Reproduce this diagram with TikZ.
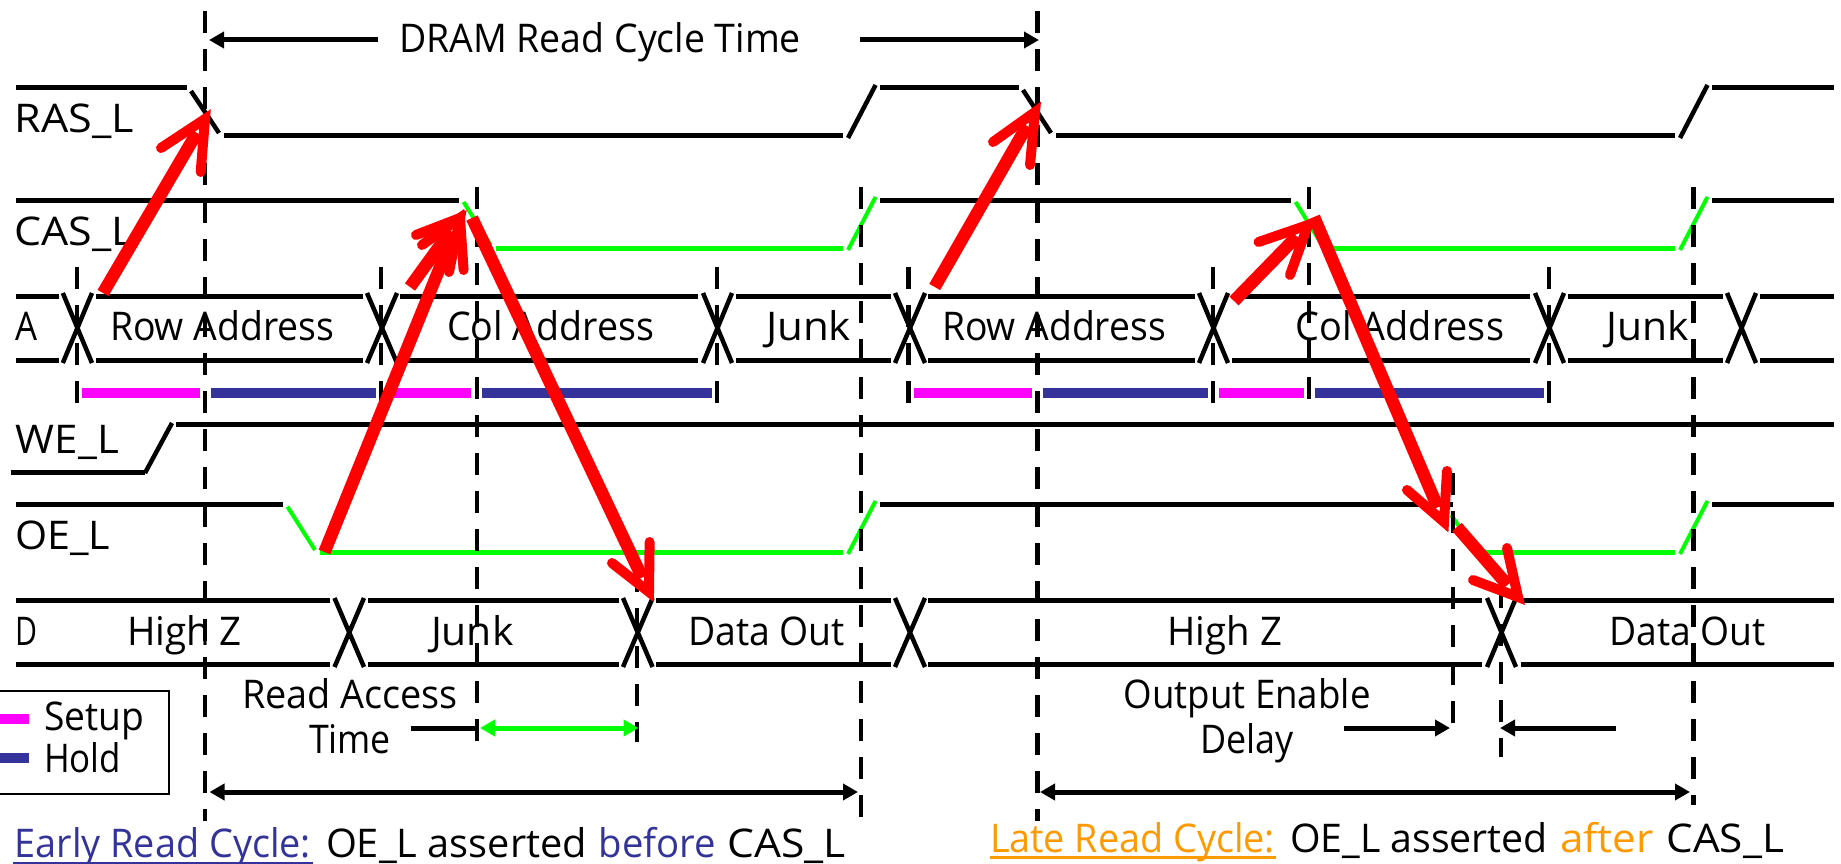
\documentclass[tikz,border=0pt]{standalone}
\usepackage{fontspec}
\usepackage{graphicx}
\setmainfont{Open Sans}
\usetikzlibrary{arrows.meta}
\definecolor{gwav}{RGB}{0,255,0}
\definecolor{rarr}{RGB}{255,0,0}
\definecolor{mgnt}{RGB}{255,0,255}
\definecolor{holdb}{RGB}{51,51,153}
\definecolor{orng}{RGB}{255,153,0}
\tikzset{
  wave/.style={black,line width=5pt},
  gwave/.style={gwav,line width=5pt},
  slash/.style={black,line width=4.5pt},
  gslash/.style={gwav,line width=4pt},
  vdash/.style={black,line width=4.5pt,dash pattern=on 22pt off 16pt},
  barm/.style={mgnt,line width=10.5pt},
  barb/.style={holdb,line width=10.5pt},
  dimline/.style={black,line width=5pt},
  redshaft/.style={rarr,line width=12.5pt,shorten >=16pt},
  redhead/.style={rarr,line width=10pt,line cap=round,line join=miter,miter limit=20},
  lbl/.style={anchor=base west,inner sep=0pt,outer sep=0pt,font=\fontsize{39.5}{42}\selectfont},
  tipr/.style={-{Triangle[length=15pt,width=16pt]}},
  tipl/.style={{Triangle[length=15pt,width=16pt]}-},
  tipb/.style={{Triangle[length=15pt,width=16pt]}-{Triangle[length=15pt,width=16pt]}},
}
% name, x0, x1, baseline, colour, text
\newcommand\tl[6]{%
  \pgfmathsetmacro\tlw{#3-#2}%
  \node[lbl,text=#5] (#1) at (#2,#4) {\resizebox{\tlw pt}{\height}{#6}};%
}
\newcommand\xcross[4]{%
  \draw[slash] (#1,#3) -- (#2,#4) (#2,#3) -- (#1,#4);%
}
\newcommand\redarrow[5]{%
  \coordinate (#1-s) at (#2);
  \coordinate (#1-t) at (#3);
  \coordinate (#1-a) at (#4);
  \coordinate (#1-b) at (#5);
  \draw[redshaft] (#1-s) -- (#1-t);
  \draw[redhead] (#1-a) -- (#1-t) -- (#1-b);%
}
\begin{document}
\begin{tikzpicture}[x=1pt,y=-1pt]
\useasboundingbox (0,0) rectangle (1841,864);
\fill[white] (0,0) rectangle (1841,864);

% RAS_L
\draw[wave] (16,88) -- (187,88) (224,136) -- (843,136) (880,88) -- (1019,88) (1056,136) -- (1675,136) (1712,88) -- (1834,88);
\draw[slash] (191,91) -- (219,133) (848,138) -- (875.6,85) (1023,90) -- (1051,133) (1680,138) -- (1707.5,85);
% CAS_L
\draw[wave] (16,200) -- (459,200) (880,200) -- (1291,200) (1712,200) -- (1834,200);
\draw[gwave] (496,248) -- (843,248) (1328,248) -- (1675,248);
\draw[gslash] (463.6,202) -- (490.6,245) (848,250) -- (875.6,197) (1295.6,202) -- (1322,245) (1680,250) -- (1707.5,197);
% A
\foreach \y in {296,360}{
  \draw[wave] (16,\y) -- (58.7,\y) (96,\y) -- (362.7,\y) (400,\y) -- (698,\y) (736,\y) -- (891,\y)
    (928,\y) -- (1194.6,\y) (1232,\y) -- (1530,\y) (1568,\y) -- (1723,\y) (1760,\y) -- (1834,\y);
}
\xcross{62.8}{92}{293}{363}
\xcross{367}{397}{293}{363}
\xcross{703}{732}{293}{363}
\xcross{895}{925}{293}{363}
\xcross{1199}{1228}{293}{363}
\xcross{1535}{1564}{293}{363}
\xcross{1727}{1756}{293}{363}
% Setup / hold bars
\draw[barm] (82,393) -- (200,393) (392,393) -- (471,393) (914,393) -- (1031.5,393) (1219,393) -- (1304,393);
\draw[barb] (211,393) -- (375.6,393) (482,393) -- (712,393) (1042.7,393) -- (1207.6,393) (1315,393) -- (1544,393);
% WE_L
\draw[wave] (10.5,472) -- (145,472) (176,424) -- (1834,424);
\draw[slash] (145,473) -- (172,423);
% OE_L
\draw[wave] (16,504) -- (283,504) (880,504) -- (1453,504) (1712,504) -- (1834,504);
\draw[gwave] (320,552) -- (843,552) (1476,552) -- (1675,552);
\draw[gslash] (287.5,506.7) -- (315,550) (848,554) -- (875.6,501) (1451,515) -- (1476,550) (1680,554) -- (1707.5,501);
% D
\foreach \y in {600,664}{
  \draw[wave] (16,\y) -- (330,\y) (368,\y) -- (619,\y) (656,\y) -- (891,\y) (928,\y) -- (1482,\y) (1521,\y) -- (1834,\y);
}
\xcross{334.5}{364}{598}{667}
\xcross{623}{652.6}{598}{667}
\xcross{895}{925}{598}{667}
\xcross{1487}{1516}{598}{667}

% Dashed time markers
\draw[vdash] (205,11) -- (205,821);
\draw[vdash] (1037.4,11) -- (1037.4,821);
\draw[vdash] (477,187) -- (477,742);
\draw[vdash] (861,187) -- (861,818);
\draw[vdash] (1309,187) -- (1309,399);
\draw[vdash] (1693.5,187) -- (1693.5,805);
\foreach \x in {77,381,717,908.5,1213,1549}{
  \draw[vdash] (\x,267) -- (\x,403);
}
\draw[vdash] (637,570) -- (637,742);
\draw[vdash] (1453,473) -- (1453,723);
\draw[vdash] (1501,586) -- (1501,757);

% Dimension arrows
\coordinate (top-l) at (209,40);
\coordinate (top-ls) at (378,40);
\coordinate (top-rs) at (860,40);
\coordinate (top-r) at (1039,40);
\draw[dimline,tipr] (top-ls) -- (top-l);
\draw[dimline,tipr] (top-rs) -- (top-r);
\coordinate (ear-l) at (209.5,792);
\coordinate (ear-r) at (858,792);
\coordinate (lat-l) at (1040,792);
\coordinate (lat-r) at (1690,792);
\draw[dimline,tipb] (ear-l) -- (ear-r);
\draw[dimline,tipb] (lat-l) -- (lat-r);
\coordinate (acc-s) at (411,728);
\coordinate (acc-e) at (478,728);
\draw[dimline] (acc-s) -- (acc-e);
\coordinate (acc-l) at (480,728);
\coordinate (acc-r) at (638.5,728);
\draw[gwav,line width=5pt,tipb] (acc-l) -- (acc-r);
\coordinate (oed-ls) at (1344,728);
\coordinate (oed-lt) at (1450,728);
\coordinate (oed-rs) at (1615.5,728);
\coordinate (oed-rt) at (1500,728);
\draw[dimline,tipr] (oed-ls) -- (oed-lt);
\draw[dimline,tipr] (oed-rs) -- (oed-rt);

% Legend
\draw[black,line width=2pt] (0,691) -- (169,691) -- (169,794) -- (0,794);
\draw[mgnt,line width=10.5pt] (0,719) -- (29,719);
\draw[holdb,line width=10.5pt] (0,758) -- (29,758);

% Labels
\tl{dram}{399}{801}{53}{black}{DRAM Read Cycle Time}
\tl{ras}{14.7}{134}{133}{black}{RAS\_L}
\tl{cas}{14.7}{134}{245}{black}{CAS\_L}
\tl{a}{16}{38}{340}{black}{A}
\tl{row1}{110}{334.5}{340}{black}{Row Address}
\tl{col1}{447}{654}{340}{black}{Col Address}
\tl{jnk1}{766}{851}{340}{black}{Junk}
\tl{row2}{942}{1166}{340}{black}{Row Address}
\tl{col2}{1295.6}{1504}{340}{black}{Col Address}
\tl{jnk2}{1606.6}{1689}{340}{black}{Junk}
\tl{we}{16}{119}{453}{black}{WE\_L}
\tl{oe}{15}{110}{549}{black}{OE\_L}
\tl{d}{16}{38}{645}{black}{D}
\tl{hiz1}{127}{242}{645}{black}{High Z}
\tl{jnk3}{431}{513.5}{645}{black}{Junk}
\tl{dat1}{688}{845}{645}{black}{Data Out}
\tl{hiz2}{1167.6}{1282}{645}{black}{High Z}
\tl{dat2}{1609.5}{1766}{645}{black}{Data Out}
\tl{rac1}{242}{458}{708}{black}{Read Access}
\tl{rac2}{309}{391}{753}{black}{Time}
\tl{oed1}{1123.6}{1370.7}{708}{black}{Output Enable}
\tl{oed2}{1200.5}{1294}{753}{black}{Delay}
\tl{setup}{44}{144}{730}{black}{Setup}
\tl{hold}{44}{121}{772}{black}{Hold}
\tl{ea1}{14.7}{311}{857}{holdb}{Early Read Cycle:}
\tl{ea2}{326}{587}{857}{black}{OE\_L asserted}
\tl{ea3}{598.6}{716}{857}{holdb}{before}
\tl{ea4}{727.7}{846}{857}{black}{CAS\_L}
\tl{la1}{990}{1275}{852}{orng}{Late Read Cycle:}
\tl{la2}{1290}{1548}{852}{black}{OE\_L asserted}
\tl{la3}{1560}{1653.6}{852}{orng}{after}
\tl{la4}{1666.5}{1784}{852}{black}{CAS\_L}
\draw[holdb,line width=2pt] (13,862.5) -- (312.5,862.5);
\draw[orng,line width=2.5pt] (990,857.5) -- (1276,857.5);

% Red arrows
\redarrow{r1}{103,293}{205,119}{161,148}{200.7,172}
\redarrow{r3}{410,287}{460,218}{416,235}{449,272}
\redarrow{r2}{324.5,552}{460,218}{422,245}{463.6,270}
\redarrow{r4}{472,218}{649,592}{612,563}{649.6,542}
\redarrow{r5}{934.7,287}{1035,112}{993,142}{1030,165}
\redarrow{r6}{1234,301}{1308,225}{1258.6,242}{1290,275}
\redarrow{r7}{1314,217}{1444,522}{1407,490}{1447,471}
\redarrow{r8}{1457,527}{1518,597}{1473,580}{1507,548}
\end{tikzpicture}
\end{document}
